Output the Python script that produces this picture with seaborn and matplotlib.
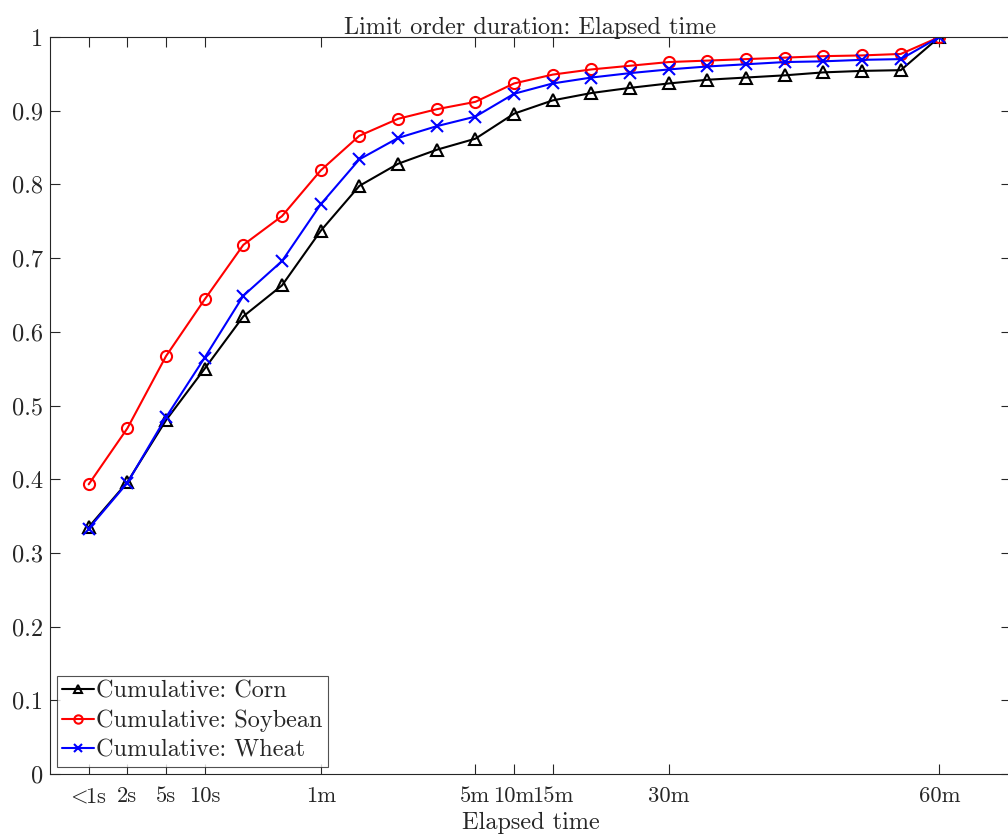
import numpy as np
import pandas as pd
import matplotlib
matplotlib.use("Agg")
import matplotlib.pyplot as plt
import seaborn as sns

# ---- data ----
x_index = list(range(1, 24))
corn = [0.335, 0.396, 0.480, 0.550, 0.621, 0.663, 0.737, 0.798, 0.828, 0.847, 0.862,
        0.896, 0.914, 0.924, 0.931, 0.937, 0.942, 0.945, 0.948, 0.952, 0.954, 0.955, 1.0]
soybean = [0.393, 0.469, 0.567, 0.644, 0.718, 0.757, 0.819, 0.866, 0.889, 0.902, 0.912,
           0.937, 0.949, 0.956, 0.961, 0.966, 0.968, 0.970, 0.972, 0.974, 0.975, 0.977, 1.0]
wheat = [0.333, 0.395, 0.484, 0.565, 0.649, 0.696, 0.773, 0.834, 0.863, 0.879, 0.892,
         0.923, 0.937, 0.945, 0.951, 0.956, 0.960, 0.963, 0.966, 0.967, 0.969, 0.970, 1.0]
tick_positions = [1, 2, 3, 4, 7, 11, 12, 13, 16, 23]
tick_labels = [r"$\!<\!\!$1s", "2s", "5s", "10s", "1m", "5m", "10m", "15m", "30m", "60m"]
series_names = ["Cumulative: Corn", "Cumulative: Soybean", "Cumulative: Wheat"]

sns.set_theme(style="white")
plt.rcParams["font.family"] = ["serif"]
plt.rcParams["font.serif"] = ["cmr10", "DejaVu Serif"]
plt.rcParams["mathtext.fontset"] = "cm"
plt.rcParams["axes.formatter.use_mathtext"] = True
plt.rcParams["axes.unicode_minus"] = False

FS = 17.5

fig = plt.figure(figsize=(10.08, 8.4), dpi=100)
ax = fig.add_axes([50 / 1008, 1 - 774 / 840, 1.003 - 50 / 1008, (774 - 37) / 840])

styles = [
    (corn, "black", "^", series_names[0]),
    (soybean, "red", "o", series_names[1]),
    (wheat, "blue", "x", series_names[2]),
]
for vals, col, mk, name in styles:
    sns.lineplot(x=x_index, y=vals, ax=ax, color=col, linewidth=1.5, marker=mk,
                 markersize=8, markerfacecolor="none", markeredgecolor=col,
                 markeredgewidth=1.5, label=name)

ax.set_xlim(0, 24.85)
ax.set_ylim(0, 1)
ax.set_xticks(tick_positions)
ax.set_xticklabels(tick_labels)
ax.set_yticks(np.arange(0, 1.01, 0.1))
ax.set_yticklabels(["0"] + [f"{v:.1f}" for v in np.arange(0.1, 0.95, 0.1)] + ["1"])
ax.tick_params(direction="in", length=7, width=0.8, colors="#262626",
               labelsize=FS, top=True, right=True, bottom=True, left=True)
ax.tick_params(axis="x", pad=9, labelsize=16.3)
ax.tick_params(axis="y", pad=5)
for s in ax.spines.values():
    s.set_color("#262626")
    s.set_linewidth(0.8)

ax.set_title("Limit order duration: Elapsed time", fontsize=FS, pad=2)
ax.set_xlabel("Elapsed time", fontsize=FS, labelpad=4)
ax.set_ylabel("")

leg = ax.legend(loc="lower left", fontsize=FS, frameon=True, fancybox=False,
                borderaxespad=0.3, handlelength=1.3, handletextpad=0.1,
                borderpad=0.2, labelspacing=0.3)
leg.get_frame().set_edgecolor("#262626")
leg.get_frame().set_linewidth(0.8)
for h in leg.legend_handles:
    h.set_markersize(6)

fig.savefig("out.png", dpi=100)
